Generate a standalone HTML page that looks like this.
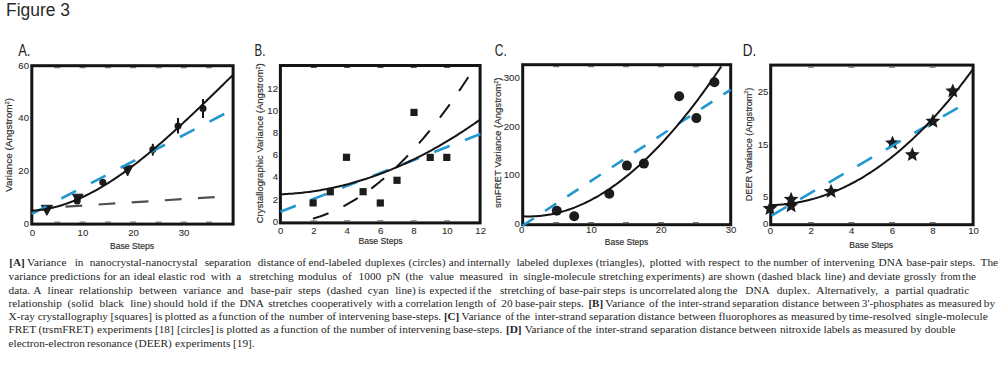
<!DOCTYPE html>
<html><head><meta charset="utf-8"><style>
html,body{margin:0;padding:0;background:#fff;width:1000px;height:366px;overflow:hidden;}
svg{position:absolute;left:0;top:0;display:block;}
</style></head><body>
<svg width="1000" height="366" viewBox="0 0 1000 366" font-family="Liberation Sans, sans-serif">
<rect x="31.8" y="65.7" width="201.29999999999998" height="158.39999999999998" fill="none" stroke="#141414" stroke-width="3"/>
<rect x="54.30" y="67.20" width="6" height="1.0" fill="#555"/>
<rect x="54.30" y="221.60" width="6" height="1.0" fill="#555"/>
<rect x="79.60" y="67.20" width="6" height="1.0" fill="#555"/>
<rect x="79.60" y="221.60" width="6" height="1.0" fill="#555"/>
<rect x="104.90" y="67.20" width="6" height="1.0" fill="#555"/>
<rect x="104.90" y="221.60" width="6" height="1.0" fill="#555"/>
<rect x="130.20" y="67.20" width="6" height="1.0" fill="#555"/>
<rect x="130.20" y="221.60" width="6" height="1.0" fill="#555"/>
<rect x="155.50" y="67.20" width="6" height="1.0" fill="#555"/>
<rect x="155.50" y="221.60" width="6" height="1.0" fill="#555"/>
<rect x="180.80" y="67.20" width="6" height="1.0" fill="#555"/>
<rect x="180.80" y="221.60" width="6" height="1.0" fill="#555"/>
<rect x="206.10" y="67.20" width="6" height="1.0" fill="#555"/>
<rect x="206.10" y="221.60" width="6" height="1.0" fill="#555"/>
<text x="18.2" y="55.7" font-size="16.5" fill="#222" textLength="12.2" lengthAdjust="spacingAndGlyphs">A.</text>
<text transform="translate(29.00,226.50) scale(1.0,1)" font-size="9.6" text-anchor="end" fill="#2a2a2a" stroke="#2a2a2a" stroke-width="0.08" >0</text>
<text transform="translate(29.00,173.98) scale(1.0,1)" font-size="9.6" text-anchor="end" fill="#2a2a2a" stroke="#2a2a2a" stroke-width="0.08" >20</text>
<text transform="translate(29.00,121.46) scale(1.0,1)" font-size="9.6" text-anchor="end" fill="#2a2a2a" stroke="#2a2a2a" stroke-width="0.08" >40</text>
<text transform="translate(29.00,68.94) scale(1.0,1)" font-size="9.6" text-anchor="end" fill="#2a2a2a" stroke="#2a2a2a" stroke-width="0.08" >60</text>
<text transform="translate(32.30,235.60) scale(1.0,1)" font-size="9.6" text-anchor="middle" fill="#2a2a2a" stroke="#2a2a2a" stroke-width="0.08" >0</text>
<text transform="translate(82.90,235.60) scale(1.0,1)" font-size="9.6" text-anchor="middle" fill="#2a2a2a" stroke="#2a2a2a" stroke-width="0.08" >10</text>
<text transform="translate(133.50,235.60) scale(1.0,1)" font-size="9.6" text-anchor="middle" fill="#2a2a2a" stroke="#2a2a2a" stroke-width="0.08" >20</text>
<text transform="translate(184.10,235.60) scale(1.0,1)" font-size="9.6" text-anchor="middle" fill="#2a2a2a" stroke="#2a2a2a" stroke-width="0.08" >30</text>
<text x="110.00" y="248.60" font-size="9.3" fill="#2a2a2a" stroke="#2a2a2a" stroke-width="0.15" textLength="44.00" lengthAdjust="spacingAndGlyphs">Base Steps</text>
<text transform="translate(12.20,145.00) rotate(-90)" font-size="9.8" text-anchor="middle" fill="#2a2a2a" stroke="#2a2a2a" stroke-width="0.15" textLength="94.0" lengthAdjust="spacingAndGlyphs">Variance (Angstrom<tspan font-size="5.5" dy="-3.2">2</tspan><tspan dy="3.2">)</tspan></text>
<circle cx="77.20" cy="201.00" r="3.5" fill="#1c1c1c"/>
<circle cx="102.80" cy="182.20" r="3.5" fill="#1c1c1c"/>
<path d="M152.80,143.80 L152.80,155.60" fill="none" stroke="#141414" stroke-width="2.0" stroke-linecap="butt" stroke-linejoin="round"/>
<circle cx="152.80" cy="149.60" r="3.5" fill="#1c1c1c"/>
<path d="M178.00,118.00 L178.00,133.40" fill="none" stroke="#141414" stroke-width="2.0" stroke-linecap="butt" stroke-linejoin="round"/>
<circle cx="178.00" cy="126.00" r="3.5" fill="#1c1c1c"/>
<path d="M203.00,99.00 L203.00,118.00" fill="none" stroke="#141414" stroke-width="2.0" stroke-linecap="butt" stroke-linejoin="round"/>
<circle cx="203.00" cy="108.40" r="3.5" fill="#1c1c1c"/>
<path d="M41.30,205.30 L52.50,205.30 L46.90,215.30 Z" fill="#1c1c1c" stroke="#1c1c1c" stroke-width="1" stroke-linejoin="round"/>
<path d="M72.50,194.20 L83.10,194.20 L77.80,203.80 Z" fill="#1c1c1c" stroke="#1c1c1c" stroke-width="1" stroke-linejoin="round"/>
<path d="M122.50,165.80 L132.70,165.80 L127.60,176.00 Z" fill="#1c1c1c" stroke="#1c1c1c" stroke-width="1" stroke-linejoin="round"/>
<path d="M65.40,206.60 L215.50,197.00" fill="none" stroke="#505050" stroke-width="2.2" stroke-linecap="butt" stroke-linejoin="round" stroke-dasharray="16.8 16.4" stroke-dashoffset="0"/>
<path d="M31.70,213.90 L230.00,111.00" fill="none" stroke="#2397cf" stroke-width="2.6" stroke-linecap="butt" stroke-linejoin="round" stroke-dasharray="16.5 16.9" stroke-dashoffset="0"/>
<path d="M32.50,210.68 L34.17,210.57 L35.84,210.44 L37.51,210.28 L39.18,210.09 L40.85,209.88 L42.52,209.65 L44.18,209.39 L45.85,209.10 L47.52,208.79 L49.19,208.46 L50.86,208.11 L52.53,207.73 L54.20,207.32 L55.87,206.90 L57.54,206.45 L59.21,205.97 L60.88,205.48 L62.55,204.96 L64.21,204.42 L65.88,203.86 L67.55,203.28 L69.22,202.67 L70.89,202.05 L72.56,201.40 L74.23,200.74 L75.90,200.05 L77.57,199.34 L79.24,198.61 L80.91,197.86 L82.58,197.10 L84.24,196.31 L85.91,195.50 L87.58,194.68 L89.25,193.83 L90.92,192.97 L92.59,192.09 L94.26,191.19 L95.93,190.28 L97.60,189.34 L99.27,188.39 L100.94,187.42 L102.61,186.43 L104.27,185.43 L105.94,184.41 L107.61,183.37 L109.28,182.32 L110.95,181.25 L112.62,180.17 L114.29,179.07 L115.96,177.95 L117.63,176.83 L119.30,175.68 L120.97,174.52 L122.64,173.35 L124.30,172.16 L125.97,170.96 L127.64,169.74 L129.31,168.51 L130.98,167.27 L132.65,166.02 L134.32,164.75 L135.99,163.47 L137.66,162.17 L139.33,160.87 L141.00,159.55 L142.67,158.22 L144.33,156.88 L146.00,155.53 L147.67,154.17 L149.34,152.79 L151.01,151.41 L152.68,150.01 L154.35,148.61 L156.02,147.19 L157.69,145.77 L159.36,144.33 L161.03,142.89 L162.70,141.44 L164.36,139.98 L166.03,138.51 L167.70,137.03 L169.37,135.54 L171.04,134.04 L172.71,132.54 L174.38,131.03 L176.05,129.51 L177.72,127.99 L179.39,126.46 L181.06,124.92 L182.72,123.37 L184.39,121.82 L186.06,120.26 L187.73,118.70 L189.40,117.13 L191.07,115.56 L192.74,113.98 L194.41,112.39 L196.08,110.80 L197.75,109.21 L199.42,107.61 L201.09,106.01 L202.76,104.40 L204.42,102.79 L206.09,101.18 L207.76,99.57 L209.43,97.95 L211.10,96.33 L212.77,94.70 L214.44,93.07 L216.11,91.45 L217.78,89.82 L219.45,88.18 L221.12,86.55 L222.78,84.92 L224.45,83.28 L226.12,81.64 L227.79,80.01 L229.46,78.37 L231.13,76.73 L232.80,75.09" fill="none" stroke="#141414" stroke-width="2.0" stroke-linecap="butt" stroke-linejoin="round"/>
<rect x="280.4" y="65.5" width="199.70000000000005" height="157.4" fill="none" stroke="#141414" stroke-width="3"/>
<rect x="310.74" y="67.00" width="6" height="1.0" fill="#555"/>
<rect x="310.74" y="220.40" width="6" height="1.0" fill="#555"/>
<rect x="344.08" y="67.00" width="6" height="1.0" fill="#555"/>
<rect x="344.08" y="220.40" width="6" height="1.0" fill="#555"/>
<rect x="377.42" y="67.00" width="6" height="1.0" fill="#555"/>
<rect x="377.42" y="220.40" width="6" height="1.0" fill="#555"/>
<rect x="410.76" y="67.00" width="6" height="1.0" fill="#555"/>
<rect x="410.76" y="220.40" width="6" height="1.0" fill="#555"/>
<rect x="444.10" y="67.00" width="6" height="1.0" fill="#555"/>
<rect x="444.10" y="220.40" width="6" height="1.0" fill="#555"/>
<text x="254.6" y="55.7" font-size="16.5" fill="#222" textLength="10.8" lengthAdjust="spacingAndGlyphs">B.</text>
<text transform="translate(278.00,224.70) scale(1.0,1)" font-size="9.6" text-anchor="end" fill="#2a2a2a" stroke="#2a2a2a" stroke-width="0.08" >0</text>
<text transform="translate(278.00,202.54) scale(1.0,1)" font-size="9.6" text-anchor="end" fill="#2a2a2a" stroke="#2a2a2a" stroke-width="0.08" >2</text>
<text transform="translate(278.00,180.38) scale(1.0,1)" font-size="9.6" text-anchor="end" fill="#2a2a2a" stroke="#2a2a2a" stroke-width="0.08" >4</text>
<text transform="translate(278.00,158.22) scale(1.0,1)" font-size="9.6" text-anchor="end" fill="#2a2a2a" stroke="#2a2a2a" stroke-width="0.08" >6</text>
<text transform="translate(278.00,136.06) scale(1.0,1)" font-size="9.6" text-anchor="end" fill="#2a2a2a" stroke="#2a2a2a" stroke-width="0.08" >8</text>
<text transform="translate(278.00,113.90) scale(1.0,1)" font-size="9.6" text-anchor="end" fill="#2a2a2a" stroke="#2a2a2a" stroke-width="0.08" >10</text>
<text transform="translate(278.00,91.74) scale(1.0,1)" font-size="9.6" text-anchor="end" fill="#2a2a2a" stroke="#2a2a2a" stroke-width="0.08" >12</text>
<text transform="translate(280.60,233.60) scale(1.0,1)" font-size="9.6" text-anchor="middle" fill="#2a2a2a" stroke="#2a2a2a" stroke-width="0.08" >0</text>
<text transform="translate(313.94,233.60) scale(1.0,1)" font-size="9.6" text-anchor="middle" fill="#2a2a2a" stroke="#2a2a2a" stroke-width="0.08" >2</text>
<text transform="translate(347.28,233.60) scale(1.0,1)" font-size="9.6" text-anchor="middle" fill="#2a2a2a" stroke="#2a2a2a" stroke-width="0.08" >4</text>
<text transform="translate(380.62,233.60) scale(1.0,1)" font-size="9.6" text-anchor="middle" fill="#2a2a2a" stroke="#2a2a2a" stroke-width="0.08" >6</text>
<text transform="translate(413.96,233.60) scale(1.0,1)" font-size="9.6" text-anchor="middle" fill="#2a2a2a" stroke="#2a2a2a" stroke-width="0.08" >8</text>
<text transform="translate(447.30,233.60) scale(1.0,1)" font-size="9.6" text-anchor="middle" fill="#2a2a2a" stroke="#2a2a2a" stroke-width="0.08" >10</text>
<text transform="translate(480.64,233.60) scale(1.0,1)" font-size="9.6" text-anchor="middle" fill="#2a2a2a" stroke="#2a2a2a" stroke-width="0.08" >12</text>
<text x="358.40" y="244.30" font-size="9.3" fill="#2a2a2a" stroke="#2a2a2a" stroke-width="0.15" textLength="44.30" lengthAdjust="spacingAndGlyphs">Base Steps</text>
<text transform="translate(263.20,143.25) rotate(-90)" font-size="9.8" text-anchor="middle" fill="#2a2a2a" stroke="#2a2a2a" stroke-width="0.15" textLength="160" lengthAdjust="spacingAndGlyphs">Crystallographic Variance (Angstrom<tspan font-size="5.5" dy="-3.2">2</tspan><tspan dy="3.2">)</tspan></text>
<path d="M280.50,211.80 L480.50,134.00" fill="none" stroke="#2397cf" stroke-width="2.6" stroke-linecap="butt" stroke-linejoin="round" stroke-dasharray="16.5 16.5" stroke-dashoffset="0"/>
<path d="M312.90,218.61 L314.21,218.24 L315.52,217.85 L316.83,217.46 L318.14,217.04 L319.45,216.62 L320.75,216.18 L322.06,215.72 L323.37,215.26 L324.68,214.78 L325.99,214.28 L327.30,213.77 L328.61,213.25 L329.92,212.71 L331.23,212.16 L332.54,211.59 L333.85,211.01 L335.16,210.42 L336.46,209.81 L337.77,209.19 L339.08,208.56 L340.39,207.91 L341.70,207.24 L343.01,206.57 L344.32,205.88 L345.63,205.17 L346.94,204.45 L348.25,203.72 L349.56,202.97 L350.87,202.21 L352.17,201.43 L353.48,200.65 L354.79,199.84 L356.10,199.03 L357.41,198.19 L358.72,197.35 L360.03,196.49 L361.34,195.62 L362.65,194.73 L363.96,193.83 L365.27,192.92 L366.58,191.99 L367.88,191.05 L369.19,190.09 L370.50,189.12 L371.81,188.13 L373.12,187.13 L374.43,186.12 L375.74,185.10 L377.05,184.06 L378.36,183.00 L379.67,181.93 L380.98,180.85 L382.29,179.75 L383.59,178.64 L384.90,177.52 L386.21,176.38 L387.52,175.23 L388.83,174.06 L390.14,172.88 L391.45,171.69 L392.76,170.48 L394.07,169.26 L395.38,168.02 L396.69,166.77 L398.00,165.51 L399.31,164.23 L400.61,162.94 L401.92,161.63 L403.23,160.31 L404.54,158.98 L405.85,157.63 L407.16,156.27 L408.47,154.89 L409.78,153.50 L411.09,152.10 L412.40,150.68 L413.71,149.25 L415.01,147.81 L416.32,146.35 L417.63,144.87 L418.94,143.38 L420.25,141.88 L421.56,140.37 L422.87,138.84 L424.18,137.29 L425.49,135.74 L426.80,134.17 L428.11,132.58 L429.42,130.98 L430.73,129.37 L432.03,127.74 L433.34,126.10 L434.65,124.44 L435.96,122.78 L437.27,121.09 L438.58,119.40 L439.89,117.68 L441.20,115.96 L442.51,114.22 L443.82,112.47 L445.13,110.70 L446.44,108.92 L447.74,107.12 L449.05,105.32 L450.36,103.49 L451.67,101.66 L452.98,99.81 L454.29,97.94 L455.60,96.06 L456.91,94.17 L458.22,92.26 L459.53,90.34 L460.84,88.41 L462.14,86.46 L463.45,84.50 L464.76,82.52 L466.07,80.53 L467.38,78.53 L468.69,76.51 L470.00,74.47" fill="none" stroke="#141414" stroke-width="2.0" stroke-linecap="butt" stroke-linejoin="round" stroke-dasharray="16.5 16.5" stroke-dashoffset="0"/>
<path d="M280.50,194.28 L282.17,194.22 L283.83,194.14 L285.50,194.06 L287.17,193.97 L288.83,193.87 L290.50,193.76 L292.17,193.64 L293.83,193.51 L295.50,193.37 L297.17,193.22 L298.83,193.06 L300.50,192.89 L302.17,192.71 L303.83,192.53 L305.50,192.33 L307.17,192.13 L308.83,191.91 L310.50,191.69 L312.17,191.45 L313.83,191.21 L315.50,190.96 L317.17,190.70 L318.83,190.43 L320.50,190.14 L322.17,189.85 L323.83,189.55 L325.50,189.25 L327.17,188.93 L328.83,188.60 L330.50,188.26 L332.17,187.92 L333.83,187.56 L335.50,187.19 L337.17,186.82 L338.83,186.43 L340.50,186.04 L342.17,185.64 L343.83,185.22 L345.50,184.80 L347.17,184.37 L348.83,183.93 L350.50,183.48 L352.17,183.02 L353.83,182.55 L355.50,182.07 L357.17,181.58 L358.83,181.08 L360.50,180.58 L362.17,180.06 L363.83,179.53 L365.50,179.00 L367.17,178.45 L368.83,177.90 L370.50,177.34 L372.17,176.76 L373.83,176.18 L375.50,175.59 L377.17,174.99 L378.83,174.38 L380.50,173.76 L382.17,173.13 L383.83,172.49 L385.50,171.84 L387.17,171.18 L388.83,170.51 L390.50,169.84 L392.17,169.15 L393.83,168.45 L395.50,167.75 L397.17,167.03 L398.83,166.31 L400.50,165.58 L402.17,164.83 L403.83,164.08 L405.50,163.32 L407.17,162.55 L408.83,161.77 L410.50,160.98 L412.17,160.18 L413.83,159.37 L415.50,158.55 L417.17,157.72 L418.83,156.89 L420.50,156.04 L422.17,155.18 L423.83,154.32 L425.50,153.44 L427.17,152.56 L428.83,151.66 L430.50,150.76 L432.17,149.85 L433.83,148.93 L435.50,147.99 L437.17,147.05 L438.83,146.10 L440.50,145.14 L442.17,144.17 L443.83,143.20 L445.50,142.21 L447.17,141.21 L448.83,140.20 L450.50,139.19 L452.17,138.16 L453.83,137.13 L455.50,136.08 L457.17,135.03 L458.83,133.96 L460.50,132.89 L462.17,131.81 L463.83,130.72 L465.50,129.61 L467.17,128.50 L468.83,127.38 L470.50,126.25 L472.17,125.11 L473.83,123.97 L475.50,122.81 L477.17,121.64 L478.83,120.46 L480.50,119.28" fill="none" stroke="#141414" stroke-width="2.0" stroke-linecap="butt" stroke-linejoin="round"/>
<rect x="309.50" y="199.30" width="7.2" height="7.2" fill="#1c1c1c"/>
<rect x="326.70" y="188.20" width="7.2" height="7.2" fill="#1c1c1c"/>
<rect x="342.90" y="153.70" width="7.2" height="7.2" fill="#1c1c1c"/>
<rect x="359.50" y="188.10" width="7.2" height="7.2" fill="#1c1c1c"/>
<rect x="376.70" y="199.40" width="7.2" height="7.2" fill="#1c1c1c"/>
<rect x="393.40" y="176.70" width="7.2" height="7.2" fill="#1c1c1c"/>
<rect x="410.40" y="108.80" width="7.2" height="7.2" fill="#1c1c1c"/>
<rect x="426.60" y="153.80" width="7.2" height="7.2" fill="#1c1c1c"/>
<rect x="443.20" y="153.80" width="7.2" height="7.2" fill="#1c1c1c"/>
<rect x="522.7" y="64.7" width="208.0" height="160.0" fill="none" stroke="#141414" stroke-width="3"/>
<rect x="553.20" y="66.20" width="6" height="1.0" fill="#555"/>
<rect x="553.20" y="222.20" width="6" height="1.0" fill="#555"/>
<rect x="588.10" y="66.20" width="6" height="1.0" fill="#555"/>
<rect x="588.10" y="222.20" width="6" height="1.0" fill="#555"/>
<rect x="623.00" y="66.20" width="6" height="1.0" fill="#555"/>
<rect x="623.00" y="222.20" width="6" height="1.0" fill="#555"/>
<rect x="657.90" y="66.20" width="6" height="1.0" fill="#555"/>
<rect x="657.90" y="222.20" width="6" height="1.0" fill="#555"/>
<rect x="692.80" y="66.20" width="6" height="1.0" fill="#555"/>
<rect x="692.80" y="222.20" width="6" height="1.0" fill="#555"/>
<text x="494.8" y="55.7" font-size="16.5" fill="#222" textLength="12.0" lengthAdjust="spacingAndGlyphs">C.</text>
<text transform="translate(519.80,227.10) scale(1.0,1)" font-size="9.6" text-anchor="end" fill="#2a2a2a" stroke="#2a2a2a" stroke-width="0.08" >0</text>
<text transform="translate(519.80,178.47) scale(1.0,1)" font-size="9.6" text-anchor="end" fill="#2a2a2a" stroke="#2a2a2a" stroke-width="0.08" >100</text>
<text transform="translate(519.80,129.84) scale(1.0,1)" font-size="9.6" text-anchor="end" fill="#2a2a2a" stroke="#2a2a2a" stroke-width="0.08" >200</text>
<text transform="translate(519.80,81.21) scale(1.0,1)" font-size="9.6" text-anchor="end" fill="#2a2a2a" stroke="#2a2a2a" stroke-width="0.08" >300</text>
<text transform="translate(521.60,232.80) scale(1.0,1)" font-size="9.6" text-anchor="middle" fill="#2a2a2a" stroke="#2a2a2a" stroke-width="0.08" >0</text>
<text transform="translate(591.40,232.80) scale(1.0,1)" font-size="9.6" text-anchor="middle" fill="#2a2a2a" stroke="#2a2a2a" stroke-width="0.08" >10</text>
<text transform="translate(661.20,232.80) scale(1.0,1)" font-size="9.6" text-anchor="middle" fill="#2a2a2a" stroke="#2a2a2a" stroke-width="0.08" >20</text>
<text transform="translate(731.00,232.80) scale(1.0,1)" font-size="9.6" text-anchor="middle" fill="#2a2a2a" stroke="#2a2a2a" stroke-width="0.08" >30</text>
<text x="604.80" y="244.70" font-size="9.3" fill="#2a2a2a" stroke="#2a2a2a" stroke-width="0.15" textLength="43.40" lengthAdjust="spacingAndGlyphs">Base Steps</text>
<text transform="translate(501.20,142.75) rotate(-90)" font-size="9.8" text-anchor="middle" fill="#2a2a2a" stroke="#2a2a2a" stroke-width="0.15" textLength="130.5" lengthAdjust="spacingAndGlyphs">smFRET Variance (Angstrom<tspan font-size="5.5" dy="-3.2">2</tspan><tspan dy="3.2">)</tspan></text>
<circle cx="556.80" cy="210.80" r="5.0" fill="#1c1c1c"/>
<circle cx="574.20" cy="216.20" r="5.0" fill="#1c1c1c"/>
<circle cx="609.30" cy="193.80" r="5.0" fill="#1c1c1c"/>
<circle cx="626.90" cy="165.60" r="5.0" fill="#1c1c1c"/>
<circle cx="643.90" cy="163.60" r="5.0" fill="#1c1c1c"/>
<circle cx="679.20" cy="96.30" r="5.0" fill="#1c1c1c"/>
<circle cx="696.40" cy="118.10" r="5.0" fill="#1c1c1c"/>
<circle cx="714.40" cy="82.20" r="5.0" fill="#1c1c1c"/>
<path d="M522.00,226.00 L730.70,89.60" fill="none" stroke="#2397cf" stroke-width="2.6" stroke-linecap="butt" stroke-linejoin="round" stroke-dasharray="13.4 13.25" stroke-dashoffset="-0.8"/>
<path d="M522.50,216.23 L524.23,216.32 L525.96,216.38 L527.69,216.42 L529.42,216.42 L531.15,216.41 L532.88,216.36 L534.60,216.29 L536.33,216.19 L538.06,216.07 L539.79,215.92 L541.52,215.75 L543.25,215.55 L544.98,215.32 L546.71,215.07 L548.44,214.79 L550.17,214.49 L551.90,214.16 L553.62,213.80 L555.35,213.42 L557.08,213.02 L558.81,212.59 L560.54,212.13 L562.27,211.65 L564.00,211.14 L565.73,210.61 L567.46,210.05 L569.19,209.47 L570.92,208.86 L572.65,208.23 L574.38,207.57 L576.10,206.89 L577.83,206.18 L579.56,205.45 L581.29,204.69 L583.02,203.91 L584.75,203.10 L586.48,202.27 L588.21,201.42 L589.94,200.54 L591.67,199.63 L593.40,198.70 L595.12,197.75 L596.85,196.78 L598.58,195.77 L600.31,194.75 L602.04,193.70 L603.77,192.63 L605.50,191.53 L607.23,190.41 L608.96,189.26 L610.69,188.10 L612.42,186.90 L614.15,185.69 L615.88,184.45 L617.60,183.18 L619.33,181.90 L621.06,180.59 L622.79,179.25 L624.52,177.90 L626.25,176.52 L627.98,175.11 L629.71,173.69 L631.44,172.24 L633.17,170.76 L634.90,169.27 L636.62,167.75 L638.35,166.21 L640.08,164.64 L641.81,163.05 L643.54,161.44 L645.27,159.81 L647.00,158.16 L648.73,156.48 L650.46,154.78 L652.19,153.05 L653.92,151.31 L655.65,149.54 L657.38,147.75 L659.10,145.94 L660.83,144.10 L662.56,142.24 L664.29,140.37 L666.02,138.46 L667.75,136.54 L669.48,134.60 L671.21,132.63 L672.94,130.64 L674.67,128.63 L676.40,126.60 L678.12,124.54 L679.85,122.47 L681.58,120.37 L683.31,118.25 L685.04,116.11 L686.77,113.95 L688.50,111.77 L690.23,109.56 L691.96,107.34 L693.69,105.09 L695.42,102.82 L697.15,100.54 L698.88,98.23 L700.60,95.90 L702.33,93.54 L704.06,91.17 L705.79,88.78 L707.52,86.36 L709.25,83.93 L710.98,81.47 L712.71,79.00 L714.44,76.50 L716.17,73.98 L717.90,71.45 L719.62,68.89 L721.23,66.50" fill="none" stroke="#141414" stroke-width="2.0" stroke-linecap="butt" stroke-linejoin="round"/>
<rect x="770.7" y="65.1" width="202.39999999999998" height="159.6" fill="none" stroke="#141414" stroke-width="3"/>
<rect x="807.80" y="66.60" width="6" height="1.0" fill="#555"/>
<rect x="807.80" y="222.20" width="6" height="1.0" fill="#555"/>
<rect x="848.40" y="66.60" width="6" height="1.0" fill="#555"/>
<rect x="848.40" y="222.20" width="6" height="1.0" fill="#555"/>
<rect x="889.00" y="66.60" width="6" height="1.0" fill="#555"/>
<rect x="889.00" y="222.20" width="6" height="1.0" fill="#555"/>
<rect x="929.60" y="66.60" width="6" height="1.0" fill="#555"/>
<rect x="929.60" y="222.20" width="6" height="1.0" fill="#555"/>
<text x="742.8" y="55.7" font-size="16.5" fill="#222" textLength="13.4" lengthAdjust="spacingAndGlyphs">D.</text>
<text transform="translate(768.40,226.70) scale(1.0,1)" font-size="9.6" text-anchor="end" fill="#2a2a2a" stroke="#2a2a2a" stroke-width="0.08" >0</text>
<text transform="translate(768.40,200.38) scale(1.0,1)" font-size="9.6" text-anchor="end" fill="#2a2a2a" stroke="#2a2a2a" stroke-width="0.08" >5</text>
<text transform="translate(768.40,147.74) scale(1.0,1)" font-size="9.6" text-anchor="end" fill="#2a2a2a" stroke="#2a2a2a" stroke-width="0.08" >15</text>
<text transform="translate(768.40,95.10) scale(1.0,1)" font-size="9.6" text-anchor="end" fill="#2a2a2a" stroke="#2a2a2a" stroke-width="0.08" >25</text>
<text transform="translate(770.50,233.60) scale(1.0,1)" font-size="9.6" text-anchor="middle" fill="#2a2a2a" stroke="#2a2a2a" stroke-width="0.08" >0</text>
<text transform="translate(811.10,233.60) scale(1.0,1)" font-size="9.6" text-anchor="middle" fill="#2a2a2a" stroke="#2a2a2a" stroke-width="0.08" >2</text>
<text transform="translate(851.70,233.60) scale(1.0,1)" font-size="9.6" text-anchor="middle" fill="#2a2a2a" stroke="#2a2a2a" stroke-width="0.08" >4</text>
<text transform="translate(892.30,233.60) scale(1.0,1)" font-size="9.6" text-anchor="middle" fill="#2a2a2a" stroke="#2a2a2a" stroke-width="0.08" >6</text>
<text transform="translate(932.90,233.60) scale(1.0,1)" font-size="9.6" text-anchor="middle" fill="#2a2a2a" stroke="#2a2a2a" stroke-width="0.08" >8</text>
<text transform="translate(973.50,233.60) scale(1.0,1)" font-size="9.6" text-anchor="middle" fill="#2a2a2a" stroke="#2a2a2a" stroke-width="0.08" >10</text>
<text x="849.30" y="247.50" font-size="9.3" fill="#2a2a2a" stroke="#2a2a2a" stroke-width="0.15" textLength="43.80" lengthAdjust="spacingAndGlyphs">Base Steps</text>
<text transform="translate(751.60,144.50) rotate(-90)" font-size="9.8" text-anchor="middle" fill="#2a2a2a" stroke="#2a2a2a" stroke-width="0.15" textLength="113.5" lengthAdjust="spacingAndGlyphs">DEER Variance (Angstrom<tspan font-size="5.5" dy="-3.2">2</tspan><tspan dy="3.2">)</tspan></text>
<path d="M770.00,200.90 L772.06,205.87 L777.42,206.29 L773.33,209.78 L774.58,215.01 L770.00,212.20 L765.42,215.01 L766.67,209.78 L762.58,206.29 L767.94,205.87 Z" fill="#1c1c1c"/>
<path d="M791.10,198.20 L793.16,203.17 L798.52,203.59 L794.43,207.08 L795.68,212.31 L791.10,209.50 L786.52,212.31 L787.77,207.08 L783.68,203.59 L789.04,203.17 Z" fill="#1c1c1c"/>
<path d="M791.10,191.70 L793.16,196.67 L798.52,197.09 L794.43,200.58 L795.68,205.81 L791.10,203.00 L786.52,205.81 L787.77,200.58 L783.68,197.09 L789.04,196.67 Z" fill="#1c1c1c"/>
<path d="M831.10,183.80 L833.16,188.77 L838.52,189.19 L834.43,192.68 L835.68,197.91 L831.10,195.10 L826.52,197.91 L827.77,192.68 L823.68,189.19 L829.04,188.77 Z" fill="#1c1c1c"/>
<path d="M892.50,135.40 L894.56,140.37 L899.92,140.79 L895.83,144.28 L897.08,149.51 L892.50,146.70 L887.92,149.51 L889.17,144.28 L885.08,140.79 L890.44,140.37 Z" fill="#1c1c1c"/>
<path d="M912.30,147.00 L914.36,151.97 L919.72,152.39 L915.63,155.88 L916.88,161.11 L912.30,158.30 L907.72,161.11 L908.97,155.88 L904.88,152.39 L910.24,151.97 Z" fill="#1c1c1c"/>
<path d="M932.90,113.60 L934.96,118.57 L940.32,118.99 L936.23,122.48 L937.48,127.71 L932.90,124.90 L928.32,127.71 L929.57,122.48 L925.48,118.99 L930.84,118.57 Z" fill="#1c1c1c"/>
<path d="M952.80,83.40 L954.86,88.37 L960.22,88.79 L956.13,92.28 L957.38,97.51 L952.80,94.70 L948.22,97.51 L949.47,92.28 L945.38,88.79 L950.74,88.37 Z" fill="#1c1c1c"/>
<path d="M770.50,216.20 L958.30,107.60" fill="none" stroke="#2397cf" stroke-width="2.6" stroke-linecap="butt" stroke-linejoin="round" stroke-dasharray="17.2 15.8" stroke-dashoffset="-1.2"/>
<path d="M771.50,205.16 L773.17,205.11 L774.85,205.05 L776.52,204.96 L778.20,204.86 L779.88,204.75 L781.55,204.61 L783.23,204.46 L784.90,204.30 L786.58,204.11 L788.25,203.91 L789.92,203.69 L791.60,203.46 L793.27,203.21 L794.95,202.94 L796.62,202.65 L798.30,202.35 L799.98,202.03 L801.65,201.69 L803.33,201.34 L805.00,200.97 L806.67,200.58 L808.35,200.17 L810.02,199.75 L811.70,199.31 L813.38,198.85 L815.05,198.37 L816.73,197.88 L818.40,197.37 L820.08,196.84 L821.75,196.29 L823.42,195.73 L825.10,195.15 L826.77,194.55 L828.45,193.93 L830.12,193.30 L831.80,192.64 L833.48,191.97 L835.15,191.28 L836.83,190.58 L838.50,189.85 L840.17,189.11 L841.85,188.35 L843.52,187.57 L845.20,186.77 L846.88,185.95 L848.55,185.12 L850.23,184.26 L851.90,183.39 L853.58,182.50 L855.25,181.60 L856.92,180.67 L858.60,179.72 L860.27,178.76 L861.95,177.78 L863.62,176.78 L865.30,175.76 L866.98,174.72 L868.65,173.66 L870.33,172.58 L872.00,171.49 L873.67,170.38 L875.35,169.24 L877.02,168.09 L878.70,166.92 L880.38,165.73 L882.05,164.52 L883.73,163.29 L885.40,162.05 L887.08,160.78 L888.75,159.49 L890.42,158.19 L892.10,156.86 L893.77,155.52 L895.45,154.16 L897.12,152.77 L898.80,151.37 L900.48,149.95 L902.15,148.51 L903.83,147.05 L905.50,145.57 L907.17,144.07 L908.85,142.55 L910.52,141.01 L912.20,139.45 L913.88,137.87 L915.55,136.27 L917.23,134.65 L918.90,133.01 L920.58,131.35 L922.25,129.67 L923.92,127.97 L925.60,126.25 L927.27,124.51 L928.95,122.75 L930.62,120.97 L932.30,119.17 L933.98,117.35 L935.65,115.50 L937.33,113.64 L939.00,111.76 L940.67,109.86 L942.35,107.93 L944.02,105.99 L945.70,104.02 L947.38,102.04 L949.05,100.03 L950.73,98.01 L952.40,95.96 L954.08,93.89 L955.75,91.80 L957.42,89.69 L959.10,87.56 L960.77,85.41 L962.45,83.23 L964.12,81.04 L965.80,78.82 L967.48,76.59 L969.15,74.33 L970.83,72.05 L972.50,69.75" fill="none" stroke="#141414" stroke-width="2.0" stroke-linecap="butt" stroke-linejoin="round"/>
<text x="9.30" y="266.25" font-family="Liberation Serif, serif" font-size="11.3" fill="#262626" font-weight="bold" textLength="15.50" lengthAdjust="spacingAndGlyphs">[A]</text>
<text x="27.00" y="266.25" font-family="Liberation Serif, serif" font-size="11.3" fill="#262626">Variance</text>
<text x="74.70" y="266.25" font-family="Liberation Serif, serif" font-size="11.3" fill="#262626">in</text>
<text x="89.70" y="266.25" font-family="Liberation Serif, serif" font-size="11.3" fill="#262626">nanocrystal-nanocrystal</text>
<text x="204.70" y="266.25" font-family="Liberation Serif, serif" font-size="11.3" fill="#262626">separation</text>
<text x="257.70" y="266.25" font-family="Liberation Serif, serif" font-size="11.3" fill="#262626" textLength="36.80" lengthAdjust="spacingAndGlyphs">distance</text>
<text x="296.70" y="266.25" font-family="Liberation Serif, serif" font-size="11.3" fill="#262626">of</text>
<text x="308.40" y="266.25" font-family="Liberation Serif, serif" font-size="11.3" fill="#262626">end-labeled</text>
<text x="365.00" y="266.25" font-family="Liberation Serif, serif" font-size="11.3" fill="#262626">duplexes</text>
<text x="408.50" y="266.25" font-family="Liberation Serif, serif" font-size="11.3" fill="#262626">(circles)</text>
<text x="448.80" y="266.25" font-family="Liberation Serif, serif" font-size="11.3" fill="#262626" textLength="16.00" lengthAdjust="spacingAndGlyphs">and</text>
<text x="467.00" y="266.25" font-family="Liberation Serif, serif" font-size="11.3" fill="#262626">internally</text>
<text x="516.40" y="266.25" font-family="Liberation Serif, serif" font-size="11.3" fill="#262626">labeled</text>
<text x="552.80" y="266.25" font-family="Liberation Serif, serif" font-size="11.3" fill="#262626">duplexes</text>
<text x="595.70" y="266.25" font-family="Liberation Serif, serif" font-size="11.3" fill="#262626">(triangles),</text>
<text x="649.70" y="266.25" font-family="Liberation Serif, serif" font-size="11.3" fill="#262626">plotted</text>
<text x="685.40" y="266.25" font-family="Liberation Serif, serif" font-size="11.3" fill="#262626">with</text>
<text x="708.20" y="266.25" font-family="Liberation Serif, serif" font-size="11.3" fill="#262626">respect</text>
<text x="744.60" y="266.25" font-family="Liberation Serif, serif" font-size="11.3" fill="#262626">to</text>
<text x="756.90" y="266.25" font-family="Liberation Serif, serif" font-size="11.3" fill="#262626">the</text>
<text x="773.20" y="266.25" font-family="Liberation Serif, serif" font-size="11.3" fill="#262626">number</text>
<text x="810.90" y="266.25" font-family="Liberation Serif, serif" font-size="11.3" fill="#262626">of</text>
<text x="823.20" y="266.25" font-family="Liberation Serif, serif" font-size="11.3" fill="#262626">intervening</text>
<text x="878.50" y="266.25" font-family="Liberation Serif, serif" font-size="11.3" fill="#262626">DNA</text>
<text x="906.40" y="266.25" font-family="Liberation Serif, serif" font-size="11.3" fill="#262626" textLength="41.40" lengthAdjust="spacingAndGlyphs">base-pair</text>
<text x="950.00" y="266.25" font-family="Liberation Serif, serif" font-size="11.3" fill="#262626">steps.</text>
<text x="980.50" y="266.25" font-family="Liberation Serif, serif" font-size="11.3" fill="#262626">The</text>
<text x="8.50" y="280" font-family="Liberation Serif, serif" font-size="11.3" fill="#262626">variance</text>
<text x="50.10" y="280" font-family="Liberation Serif, serif" font-size="11.3" fill="#262626">predictions</text>
<text x="103.40" y="280" font-family="Liberation Serif, serif" font-size="11.3" fill="#262626">for</text>
<text x="119.60" y="280" font-family="Liberation Serif, serif" font-size="11.3" fill="#262626">an</text>
<text x="133.50" y="280" font-family="Liberation Serif, serif" font-size="11.3" fill="#262626">ideal</text>
<text x="158.20" y="280" font-family="Liberation Serif, serif" font-size="11.3" fill="#262626">elastic</text>
<text x="190.00" y="280" font-family="Liberation Serif, serif" font-size="11.3" fill="#262626">rod</text>
<text x="210.80" y="280" font-family="Liberation Serif, serif" font-size="11.3" fill="#262626">with</text>
<text x="236.20" y="280" font-family="Liberation Serif, serif" font-size="11.3" fill="#262626">a</text>
<text x="249.20" y="280" font-family="Liberation Serif, serif" font-size="11.3" fill="#262626">stretching</text>
<text x="298.10" y="280" font-family="Liberation Serif, serif" font-size="11.3" fill="#262626">modulus</text>
<text x="342.30" y="280" font-family="Liberation Serif, serif" font-size="11.3" fill="#262626">of</text>
<text x="358.60" y="280" font-family="Liberation Serif, serif" font-size="11.3" fill="#262626">1000</text>
<text x="386.70" y="280" font-family="Liberation Serif, serif" font-size="11.3" fill="#262626">pN</text>
<text x="405.60" y="280" font-family="Liberation Serif, serif" font-size="11.3" fill="#262626">(the</text>
<text x="429.60" y="280" font-family="Liberation Serif, serif" font-size="11.3" fill="#262626">value</text>
<text x="459.50" y="280" font-family="Liberation Serif, serif" font-size="11.3" fill="#262626">measured</text>
<text x="509.10" y="280" font-family="Liberation Serif, serif" font-size="11.3" fill="#262626">in</text>
<text x="523.40" y="280" font-family="Liberation Serif, serif" font-size="11.3" fill="#262626">single-molecule</text>
<text x="598.80" y="280" font-family="Liberation Serif, serif" font-size="11.3" fill="#262626">stretching</text>
<text x="645.80" y="280" font-family="Liberation Serif, serif" font-size="11.3" fill="#262626">experiments)</text>
<text x="708.20" y="280" font-family="Liberation Serif, serif" font-size="11.3" fill="#262626">are</text>
<text x="725.10" y="280" font-family="Liberation Serif, serif" font-size="11.3" fill="#262626">shown</text>
<text x="757.80" y="280" font-family="Liberation Serif, serif" font-size="11.3" fill="#262626">(dashed</text>
<text x="796.80" y="280" font-family="Liberation Serif, serif" font-size="11.3" fill="#262626">black</text>
<text x="824.80" y="280" font-family="Liberation Serif, serif" font-size="11.3" fill="#262626">line)</text>
<text x="848.80" y="280" font-family="Liberation Serif, serif" font-size="11.3" fill="#262626">and</text>
<text x="867.70" y="280" font-family="Liberation Serif, serif" font-size="11.3" fill="#262626">deviate</text>
<text x="903.80" y="280" font-family="Liberation Serif, serif" font-size="11.3" fill="#262626">grossly</text>
<text x="940.20" y="280" font-family="Liberation Serif, serif" font-size="11.3" fill="#262626" textLength="20.43" lengthAdjust="spacingAndGlyphs">from</text>
<text x="962.30" y="280" font-family="Liberation Serif, serif" font-size="11.3" fill="#262626">the</text>
<text x="8.50" y="293.75" font-family="Liberation Serif, serif" font-size="11.3" fill="#262626">data.</text>
<text x="33.20" y="293.75" font-family="Liberation Serif, serif" font-size="11.3" fill="#262626">A</text>
<text x="47.50" y="293.75" font-family="Liberation Serif, serif" font-size="11.3" fill="#262626">linear</text>
<text x="79.30" y="293.75" font-family="Liberation Serif, serif" font-size="11.3" fill="#262626">relationship</text>
<text x="139.30" y="293.75" font-family="Liberation Serif, serif" font-size="11.3" fill="#262626">between</text>
<text x="182.90" y="293.75" font-family="Liberation Serif, serif" font-size="11.3" fill="#262626">variance</text>
<text x="227.10" y="293.75" font-family="Liberation Serif, serif" font-size="11.3" fill="#262626">and</text>
<text x="250.70" y="293.75" font-family="Liberation Serif, serif" font-size="11.3" fill="#262626">base-pair</text>
<text x="298.10" y="293.75" font-family="Liberation Serif, serif" font-size="11.3" fill="#262626">steps</text>
<text x="326.70" y="293.75" font-family="Liberation Serif, serif" font-size="11.3" fill="#262626">(dashed</text>
<text x="367.70" y="293.75" font-family="Liberation Serif, serif" font-size="11.3" fill="#262626">cyan</text>
<text x="395.20" y="293.75" font-family="Liberation Serif, serif" font-size="11.3" fill="#262626" textLength="20.50" lengthAdjust="spacingAndGlyphs">line)</text>
<text x="417.90" y="293.75" font-family="Liberation Serif, serif" font-size="11.3" fill="#262626">is</text>
<text x="429.60" y="293.75" font-family="Liberation Serif, serif" font-size="11.3" fill="#262626" textLength="37.50" lengthAdjust="spacingAndGlyphs">expected</text>
<text x="469.30" y="293.75" font-family="Liberation Serif, serif" font-size="11.3" fill="#262626" textLength="6.42" lengthAdjust="spacingAndGlyphs">if</text>
<text x="477.70" y="293.75" font-family="Liberation Serif, serif" font-size="11.3" fill="#262626">the</text>
<text x="500.00" y="293.75" font-family="Liberation Serif, serif" font-size="11.3" fill="#262626" textLength="44.00" lengthAdjust="spacingAndGlyphs">stretching</text>
<text x="546.20" y="293.75" font-family="Liberation Serif, serif" font-size="11.3" fill="#262626">of</text>
<text x="559.20" y="293.75" font-family="Liberation Serif, serif" font-size="11.3" fill="#262626" textLength="41.30" lengthAdjust="spacingAndGlyphs">base-pair</text>
<text x="602.70" y="293.75" font-family="Liberation Serif, serif" font-size="11.3" fill="#262626">steps</text>
<text x="629.60" y="293.75" font-family="Liberation Serif, serif" font-size="11.3" fill="#262626" textLength="7.50" lengthAdjust="spacingAndGlyphs">is</text>
<text x="639.30" y="293.75" font-family="Liberation Serif, serif" font-size="11.3" fill="#262626" textLength="56.30" lengthAdjust="spacingAndGlyphs">uncorrelated</text>
<text x="697.80" y="293.75" font-family="Liberation Serif, serif" font-size="11.3" fill="#262626" textLength="23.80" lengthAdjust="spacingAndGlyphs">along</text>
<text x="723.80" y="293.75" font-family="Liberation Serif, serif" font-size="11.3" fill="#262626">the</text>
<text x="745.30" y="293.75" font-family="Liberation Serif, serif" font-size="11.3" fill="#262626">DNA</text>
<text x="776.70" y="293.75" font-family="Liberation Serif, serif" font-size="11.3" fill="#262626">duplex.</text>
<text x="816.30" y="293.75" font-family="Liberation Serif, serif" font-size="11.3" fill="#262626">Alternatively,</text>
<text x="884.30" y="293.75" font-family="Liberation Serif, serif" font-size="11.3" fill="#262626">a</text>
<text x="895.40" y="293.75" font-family="Liberation Serif, serif" font-size="11.3" fill="#262626">partial</text>
<text x="927.20" y="293.75" font-family="Liberation Serif, serif" font-size="11.3" fill="#262626">quadratic</text>
<text x="8.50" y="306.6" font-family="Liberation Serif, serif" font-size="11.3" fill="#262626">relationship</text>
<text x="67.60" y="306.6" font-family="Liberation Serif, serif" font-size="11.3" fill="#262626">(solid</text>
<text x="99.50" y="306.6" font-family="Liberation Serif, serif" font-size="11.3" fill="#262626">black</text>
<text x="130.20" y="306.6" font-family="Liberation Serif, serif" font-size="11.3" fill="#262626">line)</text>
<text x="153.60" y="306.6" font-family="Liberation Serif, serif" font-size="11.3" fill="#262626">should</text>
<text x="187.40" y="306.6" font-family="Liberation Serif, serif" font-size="11.3" fill="#262626">hold</text>
<text x="210.80" y="306.6" font-family="Liberation Serif, serif" font-size="11.3" fill="#262626">if</text>
<text x="221.20" y="306.6" font-family="Liberation Serif, serif" font-size="11.3" fill="#262626">the</text>
<text x="239.40" y="306.6" font-family="Liberation Serif, serif" font-size="11.3" fill="#262626">DNA</text>
<text x="268.20" y="306.6" font-family="Liberation Serif, serif" font-size="11.3" fill="#262626">stretches</text>
<text x="311.10" y="306.6" font-family="Liberation Serif, serif" font-size="11.3" fill="#262626">cooperatively</text>
<text x="376.30" y="306.6" font-family="Liberation Serif, serif" font-size="11.3" fill="#262626" textLength="19.30" lengthAdjust="spacingAndGlyphs">with</text>
<text x="397.80" y="306.6" font-family="Liberation Serif, serif" font-size="11.3" fill="#262626">a</text>
<text x="405.60" y="306.6" font-family="Liberation Serif, serif" font-size="11.3" fill="#262626" textLength="47.20" lengthAdjust="spacingAndGlyphs">correlation</text>
<text x="455.00" y="306.6" font-family="Liberation Serif, serif" font-size="11.3" fill="#262626">length</text>
<text x="486.80" y="306.6" font-family="Liberation Serif, serif" font-size="11.3" fill="#262626">of</text>
<text x="501.30" y="306.6" font-family="Liberation Serif, serif" font-size="11.3" fill="#262626">20</text>
<text x="515.00" y="306.6" font-family="Liberation Serif, serif" font-size="11.3" fill="#262626" textLength="41.30" lengthAdjust="spacingAndGlyphs">base-pair</text>
<text x="558.50" y="306.6" font-family="Liberation Serif, serif" font-size="11.3" fill="#262626">steps.</text>
<text x="588.40" y="306.6" font-family="Liberation Serif, serif" font-size="11.3" fill="#262626" font-weight="bold" textLength="14.70" lengthAdjust="spacingAndGlyphs">[B]</text>
<text x="605.30" y="306.6" font-family="Liberation Serif, serif" font-size="11.3" fill="#262626">Variance</text>
<text x="649.10" y="306.6" font-family="Liberation Serif, serif" font-size="11.3" fill="#262626">of</text>
<text x="661.40" y="306.6" font-family="Liberation Serif, serif" font-size="11.3" fill="#262626">the</text>
<text x="678.30" y="306.6" font-family="Liberation Serif, serif" font-size="11.3" fill="#262626" textLength="51.80" lengthAdjust="spacingAndGlyphs">inter-strand</text>
<text x="732.30" y="306.6" font-family="Liberation Serif, serif" font-size="11.3" fill="#262626">separation</text>
<text x="781.90" y="306.6" font-family="Liberation Serif, serif" font-size="11.3" fill="#262626">distance</text>
<text x="822.20" y="306.6" font-family="Liberation Serif, serif" font-size="11.3" fill="#262626" textLength="37.40" lengthAdjust="spacingAndGlyphs">between</text>
<text x="861.80" y="306.6" font-family="Liberation Serif, serif" font-size="11.3" fill="#262626">3&#x27;-phosphates</text>
<text x="925.90" y="306.6" font-family="Liberation Serif, serif" font-size="11.3" fill="#262626">as</text>
<text x="938.30" y="306.6" font-family="Liberation Serif, serif" font-size="11.3" fill="#262626">measured</text>
<text x="983.80" y="306.6" font-family="Liberation Serif, serif" font-size="11.3" fill="#262626">by</text>
<text x="8.50" y="319.8" font-family="Liberation Serif, serif" font-size="11.3" fill="#262626">X-ray</text>
<text x="37.70" y="319.8" font-family="Liberation Serif, serif" font-size="11.3" fill="#262626">crystallography</text>
<text x="110.50" y="319.8" font-family="Liberation Serif, serif" font-size="11.3" fill="#262626">[squares]</text>
<text x="154.90" y="319.8" font-family="Liberation Serif, serif" font-size="11.3" fill="#262626">is</text>
<text x="164.70" y="319.8" font-family="Liberation Serif, serif" font-size="11.3" fill="#262626">plotted</text>
<text x="199.10" y="319.8" font-family="Liberation Serif, serif" font-size="11.3" fill="#262626">as</text>
<text x="212.10" y="319.8" font-family="Liberation Serif, serif" font-size="11.3" fill="#262626" textLength="4.66" lengthAdjust="spacingAndGlyphs">a</text>
<text x="218.60" y="319.8" font-family="Liberation Serif, serif" font-size="11.3" fill="#262626">function</text>
<text x="259.10" y="319.8" font-family="Liberation Serif, serif" font-size="11.3" fill="#262626">of</text>
<text x="270.80" y="319.8" font-family="Liberation Serif, serif" font-size="11.3" fill="#262626">the</text>
<text x="289.00" y="319.8" font-family="Liberation Serif, serif" font-size="11.3" fill="#262626">number</text>
<text x="326.70" y="319.8" font-family="Liberation Serif, serif" font-size="11.3" fill="#262626">of</text>
<text x="338.40" y="319.8" font-family="Liberation Serif, serif" font-size="11.3" fill="#262626" textLength="51.30" lengthAdjust="spacingAndGlyphs">intervening</text>
<text x="391.90" y="319.8" font-family="Liberation Serif, serif" font-size="11.3" fill="#262626">base-steps.</text>
<text x="443.90" y="319.8" font-family="Liberation Serif, serif" font-size="11.3" fill="#262626" font-weight="bold" textLength="15.40" lengthAdjust="spacingAndGlyphs">[C]</text>
<text x="461.50" y="319.8" font-family="Liberation Serif, serif" font-size="11.3" fill="#262626">Variance</text>
<text x="505.20" y="319.8" font-family="Liberation Serif, serif" font-size="11.3" fill="#262626" textLength="8.90" lengthAdjust="spacingAndGlyphs">of</text>
<text x="516.30" y="319.8" font-family="Liberation Serif, serif" font-size="11.3" fill="#262626">the</text>
<text x="534.50" y="319.8" font-family="Liberation Serif, serif" font-size="11.3" fill="#262626">inter-strand</text>
<text x="589.10" y="319.8" font-family="Liberation Serif, serif" font-size="11.3" fill="#262626">separation</text>
<text x="638.00" y="319.8" font-family="Liberation Serif, serif" font-size="11.3" fill="#262626">distance</text>
<text x="678.30" y="319.8" font-family="Liberation Serif, serif" font-size="11.3" fill="#262626">between</text>
<text x="718.60" y="319.8" font-family="Liberation Serif, serif" font-size="11.3" fill="#262626">fluorophores</text>
<text x="778.60" y="319.8" font-family="Liberation Serif, serif" font-size="11.3" fill="#262626">as</text>
<text x="791.00" y="319.8" font-family="Liberation Serif, serif" font-size="11.3" fill="#262626">measured</text>
<text x="836.50" y="319.8" font-family="Liberation Serif, serif" font-size="11.3" fill="#262626" textLength="10.51" lengthAdjust="spacingAndGlyphs">by</text>
<text x="848.80" y="319.8" font-family="Liberation Serif, serif" font-size="11.3" fill="#262626">time-resolved</text>
<text x="915.50" y="319.8" font-family="Liberation Serif, serif" font-size="11.3" fill="#262626">single-molecule</text>
<text x="8.50" y="333" font-family="Liberation Serif, serif" font-size="11.3" fill="#262626">FRET</text>
<text x="38.40" y="333" font-family="Liberation Serif, serif" font-size="11.3" fill="#262626">(trsmFRET)</text>
<text x="96.90" y="333" font-family="Liberation Serif, serif" font-size="11.3" fill="#262626">experiments</text>
<text x="154.90" y="333" font-family="Liberation Serif, serif" font-size="11.3" fill="#262626">[18]</text>
<text x="177.00" y="333" font-family="Liberation Serif, serif" font-size="11.3" fill="#262626" textLength="36.80" lengthAdjust="spacingAndGlyphs">[circles]</text>
<text x="216.00" y="333" font-family="Liberation Serif, serif" font-size="11.3" fill="#262626">is</text>
<text x="226.40" y="333" font-family="Liberation Serif, serif" font-size="11.3" fill="#262626">plotted</text>
<text x="260.40" y="333" font-family="Liberation Serif, serif" font-size="11.3" fill="#262626">as</text>
<text x="273.40" y="333" font-family="Liberation Serif, serif" font-size="11.3" fill="#262626" textLength="5.00" lengthAdjust="spacingAndGlyphs">a</text>
<text x="280.60" y="333" font-family="Liberation Serif, serif" font-size="11.3" fill="#262626">function</text>
<text x="320.90" y="333" font-family="Liberation Serif, serif" font-size="11.3" fill="#262626">of</text>
<text x="333.20" y="333" font-family="Liberation Serif, serif" font-size="11.3" fill="#262626">the</text>
<text x="350.10" y="333" font-family="Liberation Serif, serif" font-size="11.3" fill="#262626">number</text>
<text x="387.40" y="333" font-family="Liberation Serif, serif" font-size="11.3" fill="#262626">of</text>
<text x="399.10" y="333" font-family="Liberation Serif, serif" font-size="11.3" fill="#262626">intervening</text>
<text x="453.00" y="333" font-family="Liberation Serif, serif" font-size="11.3" fill="#262626">base-steps.</text>
<text x="505.90" y="333" font-family="Liberation Serif, serif" font-size="11.3" fill="#262626" font-weight="bold">[D]</text>
<text x="524.70" y="333" font-family="Liberation Serif, serif" font-size="11.3" fill="#262626" textLength="39.40" lengthAdjust="spacingAndGlyphs">Variance</text>
<text x="566.30" y="333" font-family="Liberation Serif, serif" font-size="11.3" fill="#262626">of</text>
<text x="578.00" y="333" font-family="Liberation Serif, serif" font-size="11.3" fill="#262626">the</text>
<text x="595.60" y="333" font-family="Liberation Serif, serif" font-size="11.3" fill="#262626">inter-strand</text>
<text x="650.40" y="333" font-family="Liberation Serif, serif" font-size="11.3" fill="#262626">separation</text>
<text x="699.80" y="333" font-family="Liberation Serif, serif" font-size="11.3" fill="#262626" textLength="36.80" lengthAdjust="spacingAndGlyphs">distance</text>
<text x="738.80" y="333" font-family="Liberation Serif, serif" font-size="11.3" fill="#262626">between</text>
<text x="779.90" y="333" font-family="Liberation Serif, serif" font-size="11.3" fill="#262626">nitroxide</text>
<text x="823.50" y="333" font-family="Liberation Serif, serif" font-size="11.3" fill="#262626">labels</text>
<text x="852.30" y="333" font-family="Liberation Serif, serif" font-size="11.3" fill="#262626">as</text>
<text x="864.30" y="333" font-family="Liberation Serif, serif" font-size="11.3" fill="#262626">measured</text>
<text x="910.50" y="333" font-family="Liberation Serif, serif" font-size="11.3" fill="#262626">by</text>
<text x="924.80" y="333" font-family="Liberation Serif, serif" font-size="11.3" fill="#262626">double</text>
<text x="8.50" y="346.5" font-family="Liberation Serif, serif" font-size="11.3" fill="#262626" textLength="76.40" lengthAdjust="spacingAndGlyphs">electron-electron</text>
<text x="87.10" y="346.5" font-family="Liberation Serif, serif" font-size="11.3" fill="#262626">resonance</text>
<text x="134.80" y="346.5" font-family="Liberation Serif, serif" font-size="11.3" fill="#262626">(DEER)</text>
<text x="175.10" y="346.5" font-family="Liberation Serif, serif" font-size="11.3" fill="#262626">experiments</text>
<text x="233.00" y="346.5" font-family="Liberation Serif, serif" font-size="11.3" fill="#262626">[19].</text>
<text x="6" y="16.4" font-size="18" fill="#2a2a2a" textLength="64" lengthAdjust="spacingAndGlyphs">Figure 3</text>
</svg>
</body></html>
